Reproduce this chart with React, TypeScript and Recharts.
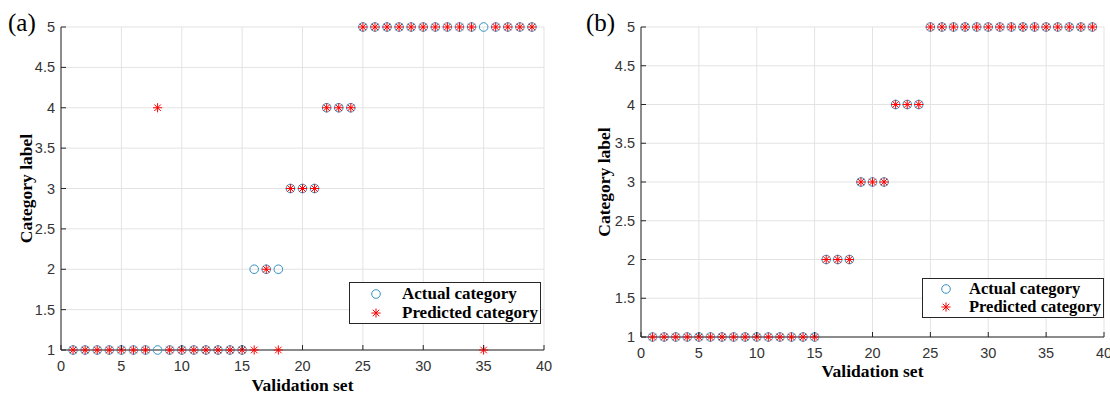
import React from "react";
import { ScatterChart, Scatter, XAxis, YAxis, CartesianGrid } from "recharts";

// sample numbers on the x axis
const sampleIndex = [
  1, 2, 3, 4, 5, 6, 7, 8, 9, 10, 11, 12, 13, 14, 15, 16, 17, 18, 19, 20,
  21, 22, 23, 24, 25, 26, 27, 28, 29, 30, 31, 32, 33, 34, 35, 36, 37, 38, 39,
];

const actualCategory = [
  1, 1, 1, 1, 1, 1, 1, 1, 1, 1, 1, 1, 1, 1, 1, 2, 2, 2, 3, 3,
  3, 4, 4, 4, 5, 5, 5, 5, 5, 5, 5, 5, 5, 5, 5, 5, 5, 5, 5,
];

// panel (a): some misclassifications
const predictedCategoryA = [
  1, 1, 1, 1, 1, 1, 1, 4, 1, 1, 1, 1, 1, 1, 1, 1, 2, 1, 3, 3,
  3, 4, 4, 4, 5, 5, 5, 5, 5, 5, 5, 5, 5, 5, 1, 5, 5, 5, 5,
];

// panel (b): all correct
const predictedCategoryB = [
  1, 1, 1, 1, 1, 1, 1, 1, 1, 1, 1, 1, 1, 1, 1, 2, 2, 2, 3, 3,
  3, 4, 4, 4, 5, 5, 5, 5, 5, 5, 5, 5, 5, 5, 5, 5, 5, 5, 5,
];

const xTicks = [0, 5, 10, 15, 20, 25, 30, 35, 40];
const yTicks = [1, 1.5, 2, 2.5, 3, 3.5, 4, 4.5, 5];

const BLUE = "#3592c2";
const RED = "#ff0000";
const AXIS = "#262626";
const TICK_TEXT = "#333333";
const GRID = "#e3e3e3";
const SERIF = '"Liberation Serif", "Times New Roman", serif';
const SANS = '"Liberation Sans", Arial, sans-serif';

const toPoints = (ys: number[]) => sampleIndex.map((x, i) => ({ x, y: ys[i] }));

const CircleMark = (p: any) => (
  <circle cx={p.cx} cy={p.cy} r={4.3} fill="none" stroke={BLUE} strokeWidth={1} />
);

const StarMark = (p: any) => {
  const { cx, cy } = p;
  const s = 4.6;
  const d = s * 0.707;
  return (
    <g stroke={RED} strokeWidth={1}>
      <line x1={cx - s} y1={cy} x2={cx + s} y2={cy} />
      <line x1={cx} y1={cy - s} x2={cx} y2={cy + s} />
      <line x1={cx - d} y1={cy - d} x2={cx + d} y2={cy + d} />
      <line x1={cx - d} y1={cy + d} x2={cx + d} y2={cy - d} />
    </g>
  );
};

const XTick = (p: any) => (
  <g>
    <line x1={p.x} x2={p.x} y1={p.y} y2={p.y - 5} stroke={AXIS} />
    <text x={p.x} y={p.y + 21} textAnchor="middle" fill={TICK_TEXT} fontSize={14.5} fontFamily={SANS}>
      {p.payload.value}
    </text>
  </g>
);

const YTick = (p: any) => (
  <g>
    <line x1={p.x} x2={p.x + 5} y1={p.y} y2={p.y} stroke={AXIS} />
    <text x={p.x - 6} y={p.y + 5} textAnchor="end" fill={TICK_TEXT} fontSize={14.5} fontFamily={SANS}>
      {p.payload.value}
    </text>
  </g>
);

interface LegendPos {
  left: number;
  top: number;
  width: number;
  height: number;
  fontSize: number;
  markerX: number;
}

const LegendBox = ({ left, top, width, height, fontSize, markerX }: LegendPos) => (
  <div
    style={{
      position: "absolute",
      left,
      top,
      width,
      height,
      boxSizing: "border-box",
      border: `1px solid ${AXIS}`,
      background: "#fff",
      fontFamily: SERIF,
      fontWeight: "bold",
      fontSize,
      color: "#000",
      display: "flex",
      flexDirection: "column",
      justifyContent: "center",
      whiteSpace: "nowrap",
      lineHeight: `${(height - 4) / 2}px`,
    }}
  >
    {[
      { name: "Actual category", kind: "circle" },
      { name: "Predicted category", kind: "star" },
    ].map((it) => (
      <div key={it.name} style={{ display: "flex", alignItems: "center" }}>
        <svg width={markerX * 2} height={14} style={{ flex: "none" }}>
          {it.kind === "circle" ? (
            <CircleMark cx={markerX} cy={7} />
          ) : (
            <StarMark cx={markerX} cy={7} />
          )}
        </svg>
        <span>{it.name}</span>
      </div>
    ))}
  </div>
);

interface PanelProps {
  predicted: number[];
  width: number;
  margin: { top: number; right: number; bottom: number; left: number };
  yLabelDx: number;
  xLabelDy: number;
}

const Panel = ({ predicted, width, margin, yLabelDx, xLabelDy }: PanelProps) => (
  <ScatterChart width={width} height={394} margin={margin}>
    <CartesianGrid stroke={GRID} horizontalValues={yTicks} verticalValues={xTicks} />
    <XAxis
      type="number"
      dataKey="x"
      domain={[0, 40]}
      ticks={xTicks}
      interval={0}
      height={30}
      tickSize={0}
      tickMargin={0}
      tickLine={false}
      stroke={AXIS}
      tick={<XTick />}
      label={{
        value: "Validation set",
        content: (props: any) => {
          const vb = props.viewBox;
          return (
            <text
              x={vb.x + vb.width / 2}
              y={vb.y + xLabelDy}
              textAnchor="middle"
              fontFamily={SERIF}
              fontWeight="bold"
              fontSize={17.5}
              fill="#000"
            >
              Validation set
            </text>
          );
        },
      }}
    />
    <YAxis
      type="number"
      dataKey="y"
      domain={[1, 5]}
      ticks={yTicks}
      interval={0}
      width={41}
      tickSize={0}
      tickMargin={0}
      tickLine={false}
      stroke={AXIS}
      tick={<YTick />}
      label={{
        value: "Category label",
        content: (props: any) => {
          const vb = props.viewBox;
          const cx = vb.x + yLabelDx;
          const cy = vb.y + vb.height / 2;
          return (
            <text
              x={cx}
              y={cy}
              transform={`rotate(-90 ${cx} ${cy})`}
              textAnchor="middle"
              dominantBaseline="central"
              fontFamily={SERIF}
              fontWeight="bold"
              fontSize={17.5}
              fill="#000"
            >
              Category label
            </text>
          );
        },
      }}
    />
    <Scatter
      name="Actual category"
      data={toPoints(actualCategory)}
      shape={<CircleMark />}
      isAnimationActive={false}
    />
    <Scatter
      name="Predicted category"
      data={toPoints(predicted)}
      shape={<StarMark />}
      isAnimationActive={false}
    />
  </ScatterChart>
);

const panelTag: React.CSSProperties = {
  position: "absolute",
  top: 8,
  fontFamily: SERIF,
  fontSize: 25,
  lineHeight: "30px",
  color: "#000",
};

export default function App() {
  return (
    <div
      style={{
        position: "absolute",
        left: 0,
        top: 0,
        width: 1110,
        height: 394,
        background: "#fff",
        overflow: "hidden",
      }}
    >
      <div style={{ position: "absolute", left: 0, top: 0 }}>
        <Panel
          predicted={predictedCategoryA}
          width={560}
          margin={{ top: 27, right: 16, bottom: 14, left: 20 }}
          yLabelDx={6}
          xLabelDy={41}
        />
        <LegendBox left={349} top={282} width={192} height={42} fontSize={17} markerX={26} />
      </div>
      <div style={{ position: "absolute", left: 560, top: 0 }}>
        <Panel
          predicted={predictedCategoryB}
          width={550}
          margin={{ top: 27, right: 6, bottom: 27, left: 40 }}
          yLabelDx={4}
          xLabelDy={40}
        />
        <LegendBox left={362} top={278} width={182} height={40} fontSize={16.5} markerX={23} />
      </div>
      <div style={{ ...panelTag, left: 8 }}>(a)</div>
      <div style={{ ...panelTag, left: 586 }}>(b)</div>
    </div>
  );
}
